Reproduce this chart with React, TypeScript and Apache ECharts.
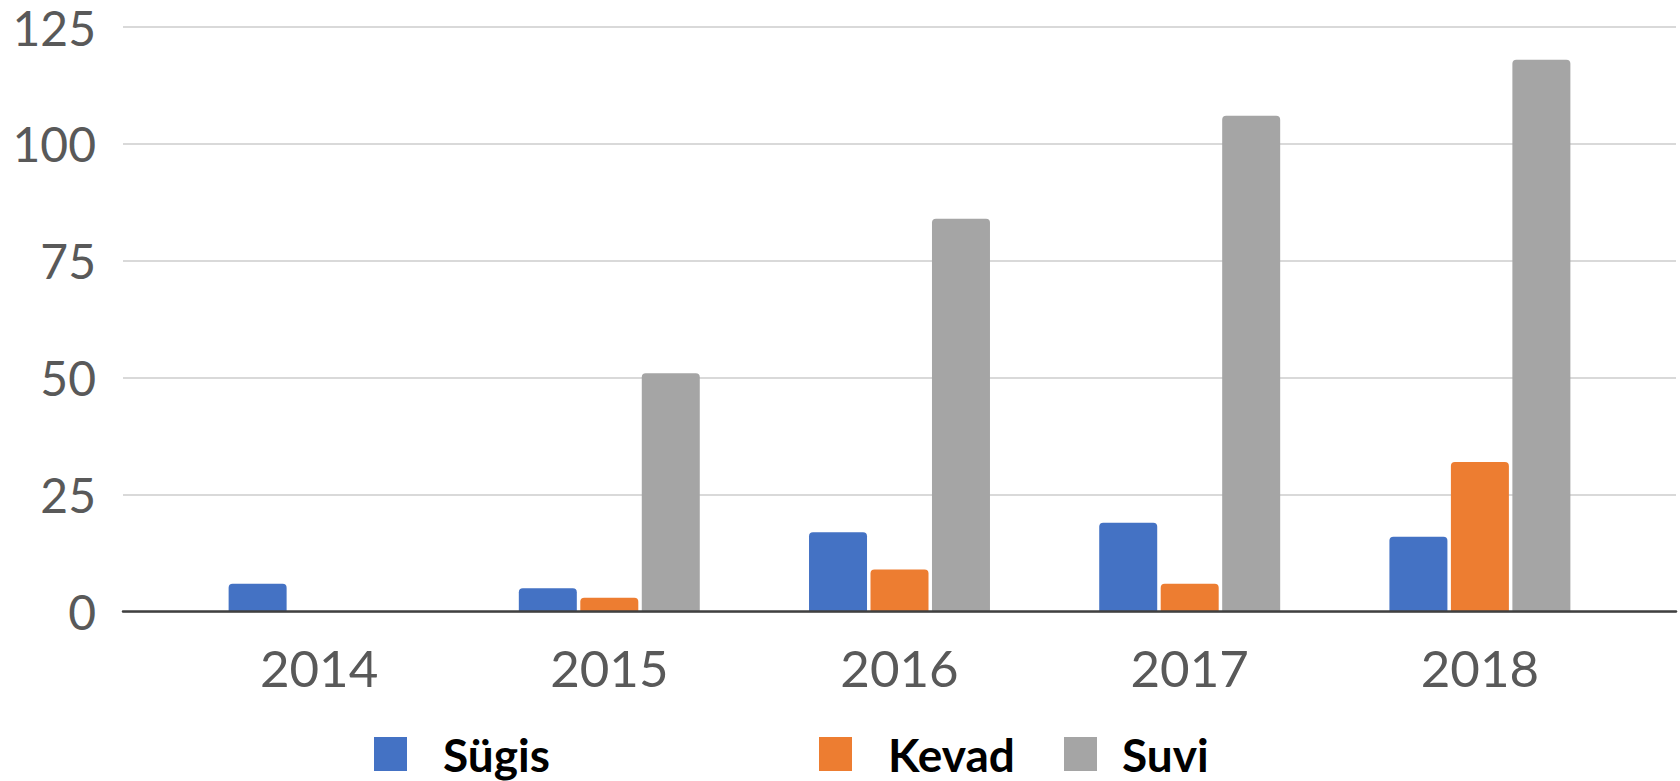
import React, { useEffect, useRef } from "react";
import * as echarts from "echarts";

const years = ["2014", "2015", "2016", "2017", "2018"];
const sugis = [6, 5, 17, 19, 16];
const kevad = [null, 3, 9, 6, 32];
const suvi = [null, 51, 84, 106, 118];
const seriesNames = ["Sügis", "Kevad", "Suvi"];
const colors = ["#4472C4", "#ED7D31", "#A5A5A5"];

export default function App() {
  const ref = useRef<HTMLDivElement>(null);
  useEffect(() => {
    if (!ref.current) return;
    const chart = echarts.init(ref.current, undefined, { renderer: "svg" });
    const font = "Lato, 'Open Sans', sans-serif";
    const values = [sugis, kevad, suvi];
    const legendLefts = [374, 819, 1064];
    const legendPads = [31, 31, 20];
    chart.setOption({
      animation: false,
      backgroundColor: "#ffffff",
      grid: [
        { left: 123, right: 4, top: 27, bottom: 169.3 },
        { left: 174, width: 1451, top: 27, bottom: 169.3 },
      ],
      xAxis: [
        {
          type: "category",
          gridIndex: 0,
          data: [""],
          z: 10,
          axisLine: { show: true, lineStyle: { color: "#404040", width: 2.5 } },
          axisTick: { show: false },
          axisLabel: { show: false },
          splitLine: { show: false },
        },
        {
          type: "category",
          gridIndex: 1,
          data: years,
          axisLine: { show: false },
          axisTick: { show: false },
          axisLabel: {
            color: "#595959",
            fontSize: 51,
            fontFamily: font,
            margin: 30,
          },
        },
      ],
      yAxis: [
        {
          type: "value",
          gridIndex: 0,
          min: 0,
          max: 125,
          interval: 25,
          axisLine: { show: false },
          axisTick: { show: false },
          axisLabel: {
            color: "#595959",
            fontSize: 48,
            fontFamily: font,
            margin: 27,
            padding: [4, 0, 0, 0],
          },
          splitLine: { lineStyle: { color: "#D9D9D9", width: 2 } },
        },
        {
          type: "value",
          gridIndex: 1,
          min: 0,
          max: 125,
          interval: 25,
          show: false,
          splitLine: { show: false },
        },
      ],
      legend: seriesNames.map((n, i) => ({
        data: [n],
        left: legendLefts[i],
        top: 731,
        itemWidth: 33,
        itemHeight: 34,
        icon: "rect",
        padding: 0,
        textStyle: {
          color: "#000000",
          fontSize: 46,
          fontWeight: "bold",
          fontFamily: font,
          padding: [0, 0, 48, legendPads[i]],
        },
      })),
      series: seriesNames.map((n, i) => ({
        name: n,
        type: "bar",
        xAxisIndex: 1,
        yAxisIndex: 1,
        data: values[i],
        barWidth: 58,
        barGap: "6%",
        itemStyle: { color: colors[i], borderRadius: [4, 4, 0, 0] },
      })),
    });
    return () => chart.dispose();
  }, []);
  return (
    <div
      ref={ref}
      style={{ position: "fixed", left: 0, top: 0, width: 1680, height: 781 }}
    />
  );
}
